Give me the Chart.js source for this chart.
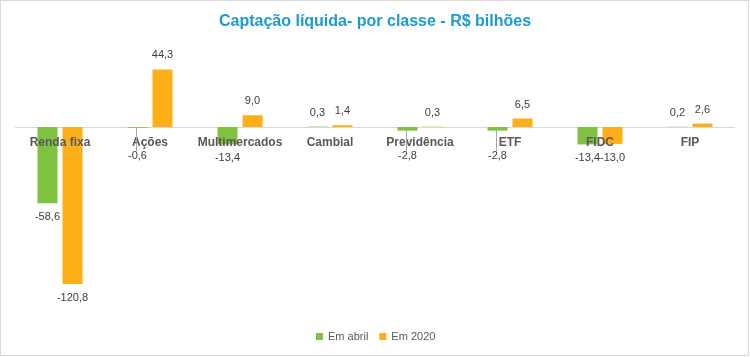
<!DOCTYPE html>
<html>
<head>
<meta charset="utf-8">
<script src="https://cdn.jsdelivr.net/npm/chart.js@4/dist/chart.umd.min.js"></script>
<style>
html,body{margin:0;padding:0;background:#fff;}
canvas{display:block;}
</style>
</head>
<body>
<canvas id="c" width="750" height="357"></canvas>
<script>
const categories = ['Renda fixa','Ações','Multimercados','Cambial','Previdência','ETF','FIDC','FIP'];
const emAbril = [-58.6,-0.6,-13.4,0.3,-2.8,-2.8,-13.4,0.2];
const em2020 = [-120.8,44.3,9.0,1.4,0.3,6.5,-13.0,2.6];
const seriesNames = ['Em abril','Em 2020'];
const titleText = 'Captação líquida- por classe - R$ bilhões';

const GREEN = '#7FC242';
const ORANGE = '#FDAF17';
const SANS = '"Liberation Sans", Arial, sans-serif';

function fmt(v){ return v.toFixed(1).replace('.', ','); }

const decor = {
  id: 'decor',
  beforeDatasetsDraw(chart){
    const ctx = chart.ctx, y = chart.scales.y, a = chart.chartArea;
    const z = Math.round(y.getPixelForValue(0)) + 0.5;
    ctx.save();
    ctx.strokeStyle = '#D9D9D9';
    ctx.lineWidth = 1;
    ctx.beginPath(); ctx.moveTo(a.left, z); ctx.lineTo(a.right, z); ctx.stroke();
    ctx.restore();
  },
  afterDatasetsDraw(chart){
    const ctx = chart.ctx, xs = chart.scales.x, ys = chart.scales.y;
    const z = ys.getPixelForValue(0);
    ctx.save();
    ctx.font = 'bold 12px ' + SANS;
    ctx.fillStyle = '#595959';
    ctx.textAlign = 'center';
    ctx.textBaseline = 'middle';
    categories.forEach((c, i) => ctx.fillText(c, xs.getPixelForValue(i), z + 16));
    ctx.font = '11px ' + SANS;
    chart.data.datasets.forEach((ds, di) => {
      const meta = chart.getDatasetMeta(di);
      meta.data.forEach((bar, i) => {
        const v = ds.data[i];
        let ly;
        if (v >= 0) {
          ly = bar.y - 14;
        } else {
          ly = Math.max(bar.y + 14, z + 29);
          if (ly - bar.y > 20) {
            ctx.strokeStyle = '#A6A6A6';
            ctx.lineWidth = 1;
            ctx.beginPath();
            ctx.moveTo(Math.round(bar.x) - 0.5, bar.y);
            ctx.lineTo(Math.round(bar.x) - 0.5, ly - 5);
            ctx.stroke();
          }
        }
        ctx.fillStyle = '#404040';
        ctx.fillText(fmt(v), bar.x, ly);
      });
    });
    ctx.restore();
  },
  afterDraw(chart){
    const ctx = chart.ctx;
    ctx.save();
    ctx.font = 'bold 16px ' + SANS;
    ctx.fillStyle = '#1B9AD8';
    ctx.textAlign = 'center';
    ctx.textBaseline = 'middle';
    ctx.fillText(titleText, 375, 22);
    ctx.font = '11px ' + SANS;
    ctx.textAlign = 'left';
    const colors = [GREEN, ORANGE];
    const widths = seriesNames.map(n => ctx.measureText(n).width);
    const box = 7, gap = 5, sep = 11;
    const total = widths.reduce((s, w) => s + box + gap + w, 0) + sep;
    let x = Math.round(376 - total / 2);
    const ly = 336;
    seriesNames.forEach((n, i) => {
      ctx.fillStyle = colors[i];
      ctx.fillRect(x, ly - 3, box, box);
      ctx.fillStyle = '#595959';
      ctx.fillText(n, x + box + gap, ly + 1);
      x += box + gap + widths[i] + sep;
    });
    ctx.strokeStyle = '#D9D9D9';
    ctx.lineWidth = 1;
    ctx.strokeRect(0.5, 0.5, 748, 355);
    ctx.restore();
  }
};

new Chart(document.getElementById('c'), {
  type: 'bar',
  data: {
    labels: categories,
    datasets: [
      { label: seriesNames[0], data: emAbril, backgroundColor: GREEN, barPercentage: 0.8, categoryPercentage: 0.556 },
      { label: seriesNames[1], data: em2020, backgroundColor: ORANGE, barPercentage: 0.8, categoryPercentage: 0.556 }
    ]
  },
  options: {
    responsive: false,
    animation: false,
    devicePixelRatio: 1,
    layout: { padding: { left: 15, right: 15, top: 62, bottom: 61 } },
    plugins: { legend: { display: false }, title: { display: false }, tooltip: { enabled: false } },
    scales: {
      x: { display: false },
      y: { display: false, min: -130, max: 50 }
    }
  },
  plugins: [decor]
});
</script>
</body>
</html>
